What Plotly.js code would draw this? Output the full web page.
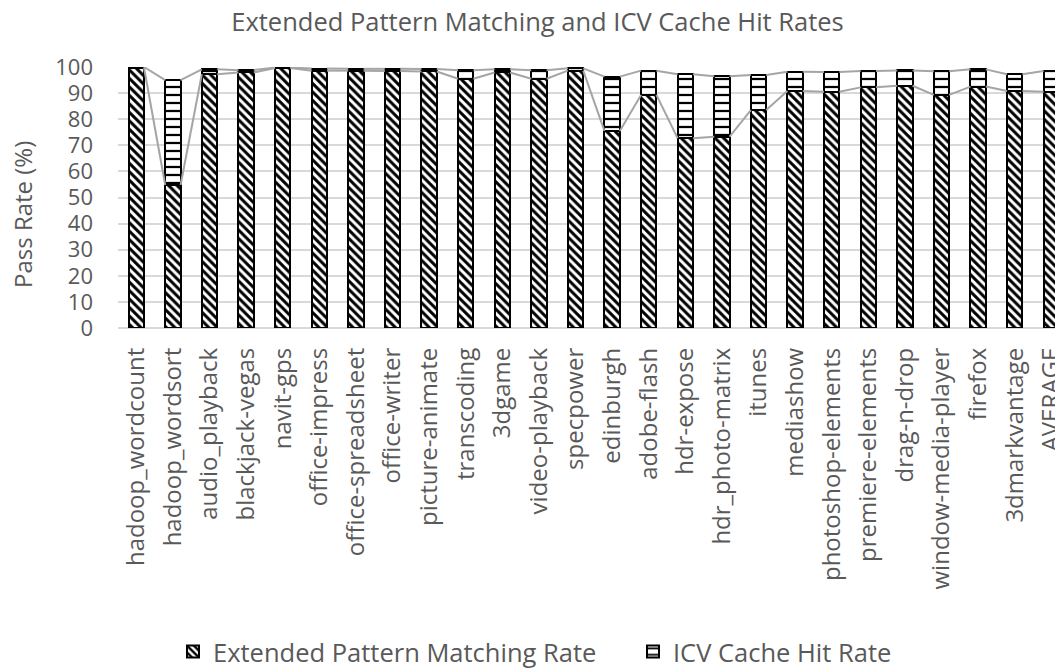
<!DOCTYPE html>
<html>
<head>
<meta charset="utf-8">
<script src="https://cdn.plot.ly/plotly-3.0.1.min.js"></script>
<style>html,body{margin:0;padding:0;background:#fff;overflow:hidden}#chart{width:1055px;height:669px}</style>
</head>
<body>
<div id="chart"></div>
<script>
// ---- data ----
var categories = ["hadoop_wordcount","hadoop_wordsort","audio_playback","blackjack-vegas","navit-gps",
  "office-impress","office-spreadsheet","office-writer","picture-animate","transcoding","3dgame",
  "video-playback","specpower","edinburgh","adobe-flash","hdr-expose","hdr_photo-matrix","itunes",
  "mediashow","photoshop-elements","premiere-elements","drag-n-drop","window-media-player","firefox",
  "3dmarkvantage","AVERAGE"];
var extendedRate = [99.8,54.8,97.2,97.9,99.6,98.6,98.6,98.5,98.3,95.5,97.9,95.5,98.6,75.5,89.3,72.7,73.3,83.5,90.8,90.5,92.2,92.8,89.3,92.5,90.8,90.5];
var icvHitRate   = [0.2,40.2,1.9,0.9,0.2,0.8,0.7,0.8,0.9,3.3,1.2,3.3,0.9,20.8,9.3,24.5,23.2,13.4,7.4,7.6,6.3,5.9,9.1,6.6,6.4,8.0];
var seriesNames = ["Extended Pattern Matching Rate","ICV Cache Hit Rate"];
var yTicks = [0,10,20,30,40,50,60,70,80,90,100];

// ---- build ----
var idx = categories.map(function(_, i){ return i; });
var totals = extendedRate.map(function(v, i){ return v + icvHitRate[i]; });
var barW = 0.42, hw = barW/2;
function seriesLine(vals){
  var xs = [], ys = [];
  for (var i = 0; i < vals.length - 1; i++){
    xs.push(i + hw, i + 1 - hw, null);
    ys.push(vals[i], vals[i+1], null);
  }
  return {x: xs, y: ys, type: 'scatter', mode: 'lines', showlegend: false, hoverinfo: 'skip',
          line: {color: '#a5a5a5', width: 2}};
}
var font = "'Open Sans', sans-serif";
var grey = '#595959';
var traces = [
  seriesLine(extendedRate),
  seriesLine(totals),
  {x: idx, y: extendedRate, type: 'bar', name: seriesNames[0], width: barW,
   marker: {color: '#ffffff', line: {color: '#000', width: 2},
            pattern: {shape: '\\', fgcolor: '#000', bgcolor: '#fff', size: 6, solidity: 0.5}}},
  {x: idx, y: icvHitRate, type: 'bar', name: seriesNames[1], width: barW,
   marker: {color: '#ffffff', line: {color: '#000', width: 2},
            pattern: {shape: '-', fgcolor: '#000', bgcolor: '#fff', size: 8, solidity: 0.28}}}
];
var layout = {
  width: 1055, height: 669,
  margin: {l: 118, r: 0, t: 67, b: 341},
  paper_bgcolor: '#fff', plot_bgcolor: '#fff',
  barmode: 'stack',
  font: {family: font, color: grey, size: 24},
  title: {text: 'Extended Pattern Matching and ICV Cache Hit Rates', font: {family: font, size: 25.5, color: grey},
          x: 0.5095, xref: 'container', xanchor: 'center', y: 1 - 22/669, yref: 'container', yanchor: 'middle'},
  xaxis: {range: [-0.5, 25.1], tickmode: 'array', tickvals: idx, ticktext: categories, tickangle: -90,
          showgrid: false, zeroline: false, showline: false, ticks: '', ticklabelstandoff: 14,
          ticklabeloverflow: 'allow',
          tickfont: {family: font, size: 24, color: grey}, fixedrange: true},
  yaxis: {range: [0, 100], tickmode: 'array', tickvals: yTicks, showgrid: true, gridcolor: '#d9d9d9', gridwidth: 2,
          zeroline: true, zerolinecolor: '#d9d9d9', zerolinewidth: 2, showline: false, ticks: '',
          ticklabelstandoff: 24, tickfont: {family: font, size: 22, color: grey}, fixedrange: true},
  legend: {orientation: 'h', xref: 'container', yref: 'container', x: 173/1055, xanchor: 'left',
           y: 1 - 652/669, yanchor: 'middle', entrywidth: 415, traceorder: 'normal',
           font: {family: font, size: 25.5, color: grey}, bgcolor: 'rgba(0,0,0,0)'},
  annotations: [{text: 'Pass Rate (%)', textangle: -90, xref: 'paper', yref: 'paper',
                 x: (22-118)/937, y: (328-215)/261, xanchor: 'center', yanchor: 'middle', showarrow: false,
                 font: {family: font, size: 24, color: grey}}],
  showlegend: true
};
Plotly.newPlot('chart', traces, layout, {displayModeBar: false, staticPlot: true});
</script>
</body>
</html>
